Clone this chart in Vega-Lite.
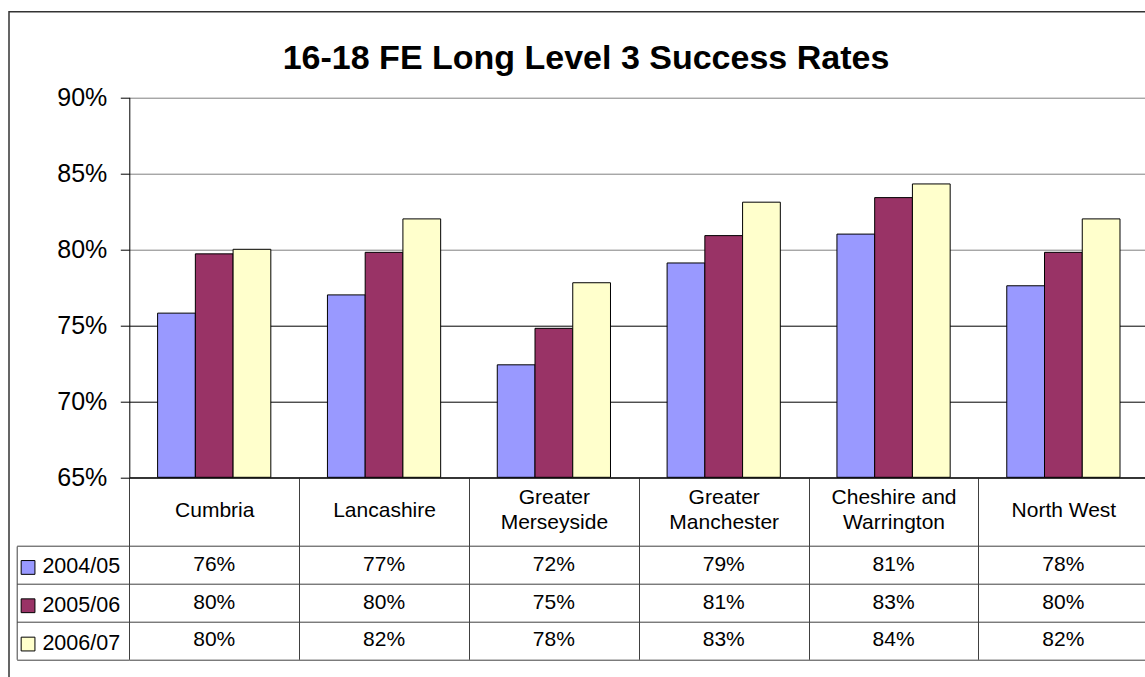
{
  "$schema": "https://vega.github.io/schema/vega-lite/v6.json",
  "autosize": {"type": "none"},
  "padding": {"left": 9, "top": 11.7, "right": -6, "bottom": -6},
  "width": 1142,
  "height": 671.3,
  "background": "white",
  "config": {
    "font": "Liberation Sans",
    "view": {"stroke": "#333333", "strokeWidth": 1.5},
    "axis": {"labelFont": "Liberation Sans", "labelColor": "black"}
  },
  "title": {
    "text": "16-18 FE Long Level 3 Success Rates",
    "fontSize": 34,
    "fontWeight": "bold",
    "font": "Liberation Sans",
    "color": "black",
    "anchor": "middle",
    "frame": "group",
    "baseline": "alphabetic",
    "offset": 0,
    "dx": 6,
    "dy": 90.9
  },
  "datasets": {
    "rates": [
      {"region": "Cumbria", "series": "2004/05", "value": 0.758},
      {"region": "Cumbria", "series": "2005/06", "value": 0.797},
      {"region": "Cumbria", "series": "2006/07", "value": 0.800},
      {"region": "Lancashire", "series": "2004/05", "value": 0.770},
      {"region": "Lancashire", "series": "2005/06", "value": 0.798},
      {"region": "Lancashire", "series": "2006/07", "value": 0.820},
      {"region": "Greater Merseyside", "series": "2004/05", "value": 0.724},
      {"region": "Greater Merseyside", "series": "2005/06", "value": 0.748},
      {"region": "Greater Merseyside", "series": "2006/07", "value": 0.778},
      {"region": "Greater Manchester", "series": "2004/05", "value": 0.791},
      {"region": "Greater Manchester", "series": "2005/06", "value": 0.809},
      {"region": "Greater Manchester", "series": "2006/07", "value": 0.831},
      {"region": "Cheshire and Warrington", "series": "2004/05", "value": 0.810},
      {"region": "Cheshire and Warrington", "series": "2005/06", "value": 0.834},
      {"region": "Cheshire and Warrington", "series": "2006/07", "value": 0.843},
      {"region": "North West", "series": "2004/05", "value": 0.776},
      {"region": "North West", "series": "2005/06", "value": 0.798},
      {"region": "North West", "series": "2006/07", "value": 0.820}
    ]
  },
  "data": {"name": "rates"},
  "layer": [
    {
      "mark": {"type": "bar", "stroke": "black", "strokeWidth": 1},
      "encoding": {
        "x": {
          "field": "region",
          "type": "nominal",
          "sort": ["Cumbria", "Lancashire", "Greater Merseyside", "Greater Manchester", "Cheshire and Warrington", "North West"],
          "scale": {"range": [120.3, 1139.3], "paddingInner": 0, "paddingOuter": 0},
          "axis": {
            "orient": "bottom",
            "offset": -205.7,
            "title": null,
            "domain": true,
            "domainColor": "black",
            "ticks": true,
            "tickBand": "extent",
            "tickSize": 182,
            "tickColor": "#404040",
            "labelFontSize": 21,
            "labelPadding": {"condition": {"test": "indexof(datum.label, 'Greater') == 0 || datum.label == 'Cheshire and Warrington'", "value": -162}, "value": -149},
            "labelBaseline": "middle",
            "labelLineHeight": 25.5,
            "labelAngle": 0,
            "labelOverlap": false,
            "labelBound": false,
            "labelExpr": "datum.label == 'Greater Merseyside' ? ['Greater', 'Merseyside'] : datum.label == 'Greater Manchester' ? ['Greater', 'Manchester'] : datum.label == 'Cheshire and Warrington' ? ['Cheshire and', 'Warrington'] : datum.label",
            "grid": false
          }
        },
        "xOffset": {
          "field": "series",
          "type": "nominal",
          "scale": {"paddingInner": 0, "paddingOuter": 0.75}
        },
        "y": {
          "field": "value",
          "type": "quantitative",
          "scale": {"domain": [0.65, 0.9], "range": [465.6, 85.6], "zero": false, "nice": false},
          "axis": {
            "orient": "left",
            "offset": -120.3,
            "title": null,
            "values": [0.65, 0.7, 0.75, 0.8, 0.85, 0.9],
            "format": ".0%",
            "labelFontSize": 25,
            "labelPadding": 13.5,
            "labelBaseline": "middle",
            "tickSize": 9,
            "tickColor": "black",
            "domainColor": "black",
            "grid": true,
            "gridColor": {"condition": {"test": "datum.value >= 0.799", "value": "#808080"}, "value": "#000000"},
            "gridWidth": 1
          }
        },
        "y2": {"datum": 0.65},
        "color": {
          "field": "series",
          "type": "nominal",
          "scale": {"domain": ["2004/05", "2005/06", "2006/07"], "range": ["#9999FF", "#993366", "#FFFFCC"]},
          "legend": {
            "orient": "none",
            "legendX": 8.3,
            "legendY": 545,
            "direction": "vertical",
            "title": null,
            "symbolType": "square",
            "symbolSize": 190,
            "symbolStrokeColor": "black",
            "symbolStrokeWidth": 1,
            "labelFontSize": 21.5,
            "labelColor": "black",
            "labelFont": "Liberation Sans",
            "labelOffset": 3.6,
            "rowPadding": 15.3,
            "padding": 0,
            "symbolOffset": 0,
            "labelBaseline": "middle"
          }
        }
      }
    },
    {
      "mark": {"type": "text", "fontSize": 21, "fill": "black", "baseline": "middle", "align": "center"},
      "encoding": {
        "x": {
          "field": "region",
          "type": "nominal",
          "sort": ["Cumbria", "Lancashire", "Greater Merseyside", "Greater Manchester", "Cheshire and Warrington", "North West"]
        },
        "y": {
          "field": "series",
          "type": "nominal",
          "scale": {"type": "band", "domain": ["2004/05", "2005/06", "2006/07"], "range": [534.3, 647.6], "paddingInner": 0, "paddingOuter": 0},
          "axis": {
            "orient": "left",
            "offset": -7.7,
            "title": null,
            "labels": false,
            "domain": true,
            "domainColor": "#404040",
            "ticks": true,
            "tickSize": -112.6,
            "tickColor": "#404040",
            "tickBand": "extent",
            "grid": true,
            "gridColor": "#404040",
            "gridWidth": 1
          }
        },
        "text": {"field": "value", "type": "quantitative", "format": ".0%"}
      }
    }
  ],
  "resolve": {"scale": {"y": "independent"}, "axis": {"y": "independent"}}
}
